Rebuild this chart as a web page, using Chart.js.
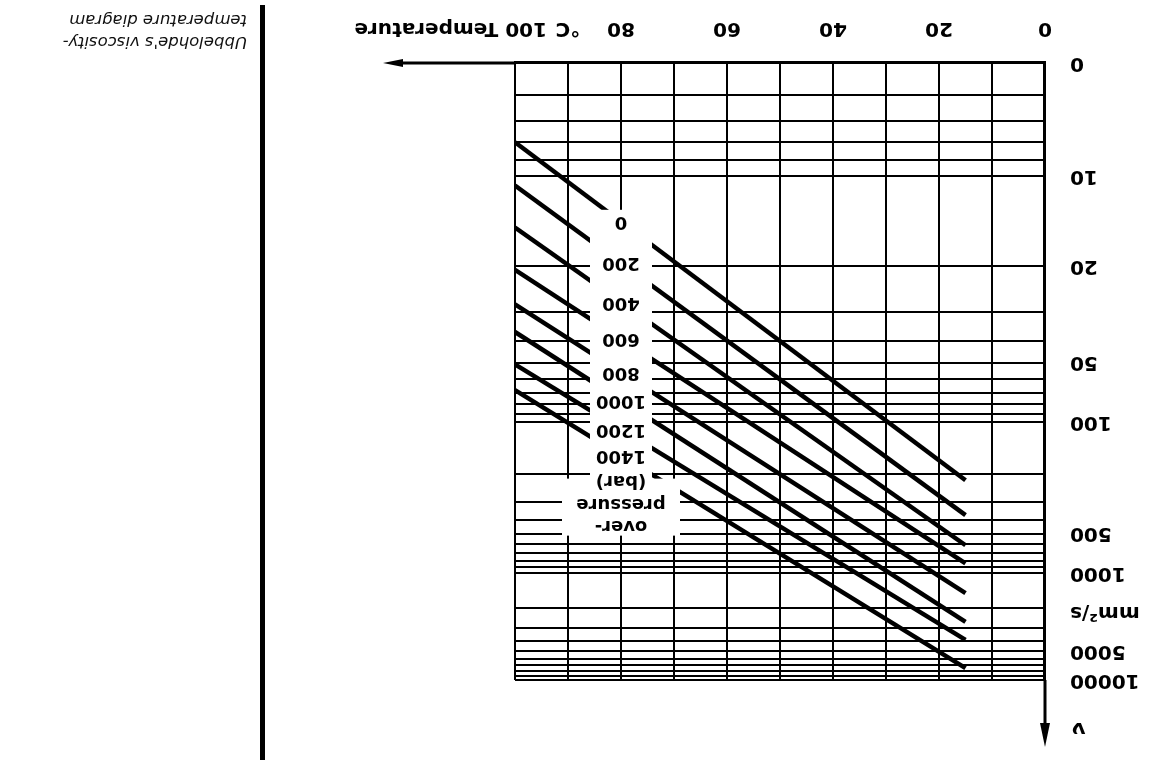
<!DOCTYPE html>
<html>
<head>
<meta charset="utf-8">
<title>Ubbelohde viscosity-temperature diagram</title>
<script src="https://cdn.jsdelivr.net/npm/chart.js@4/dist/chart.umd.min.js"></script>
<style>
  html, body { margin: 0; padding: 0; background: #fff; overflow: hidden; }
  #sheet { position: relative; width: 1150px; height: 760px; transform: rotate(180deg); }
  #sheet canvas { position: absolute; left: 0; top: 0; }
  .rule { position: absolute; left: 885px; top: 0; width: 5px; height: 755px; background: #000; }
  .caption { position: absolute; left: 903px; top: 707px; font: italic 16.5px/22px "DejaVu Sans", sans-serif; color: #111; white-space: nowrap; }
</style>
</head>
<body>
<div id="sheet">
  <canvas id="ubbelohde" width="1150" height="760"></canvas>
  <div class="rule"></div>
  <div class="caption">Ubbelohde's viscosity-<br>temperature diagram</div>
</div>
<script>
// ends of every pressure line, °C
var lineTemps = [15, 100]
var pressures = [0, 200, 400, 600, 800, 1000, 1200, 1400]
// kinematic viscosity, mm²/s, read at 15 °C and at 100 °C
var viscAt15 = [218, 370, 610, 840, 1470, 2640, 3900, 7500]
var viscAt100 = [8, 10.7, 14.6, 20.6, 28, 36.5, 51, 68]
// grid and tick labels
var viscGrid = [5, 6, 7, 8, 9, 10, 20, 30, 40, 50, 60, 70, 80, 90, 100,
    200, 300, 400, 500, 600, 700, 800, 900, 1000,
    2000, 3000, 4000, 5000, 6000, 7000, 8000, 9000, 10000]
var viscLabels = [10, 20, 50, 100, 500, 1000, 5000, 10000]
var tempLabels = [0, 20, 40, 60, 80]
var labelTemp = 80

// Ubbelohde ordinate: log log (v + 0.8)
function ubb(v) {
    return Math.log10(Math.log10(v + 0.8))
}

Chart.defaults.font.family = '"DejaVu Sans", sans-serif'
Chart.defaults.font.size = 20
Chart.defaults.font.weight = 'bold'
Chart.defaults.color = '#000'

var pressureTags = {
    id: 'pressureTags',
    afterDatasetsDraw: function(chart) {
        var ctx = chart.ctx, x = chart.scales.x, y = chart.scales.y
        var xc = x.getPixelForValue(labelTemp)
        var t = (labelTemp - lineTemps[0]) / (lineTemps[1] - lineTemps[0])
        var ys = pressures.map(function(p, i) {
            var a = ubb(viscAt15[i]), b = ubb(viscAt100[i])
            return y.getPixelForValue(a + (b - a) * t)
        })
        var top = ys[ys.length - 1]
        var head = ['over-', 'pressure', '(bar)']
        var headY = [top - 70, top - 48, top - 25]
        ctx.save()
        ctx.fillStyle = '#fff'
        ctx.fillRect(xc - 59, headY[0] - 10, 118, headY[2] - headY[0] + 12)
        ctx.fillRect(xc - 31, headY[2], 62, ys[0] + 12 - headY[2])
        ctx.fillStyle = '#000'
        ctx.font = 'bold 18px "DejaVu Sans", sans-serif'
        ctx.textAlign = 'center'
        ctx.textBaseline = 'middle'
        head.forEach(function(s, i) { ctx.fillText(s, xc, headY[i]) })
        pressures.forEach(function(p, i) { ctx.fillText(String(p), xc, ys[i]) })
        ctx.restore()
    }
}

var axisExtras = {
    id: 'axisExtras',
    afterDraw: function(chart) {
        var ctx = chart.ctx, a = chart.chartArea, x = chart.scales.x, y = chart.scales.y
        ctx.save()
        ctx.strokeStyle = '#000'
        ctx.fillStyle = '#000'
        ctx.lineWidth = 3
        // temperature arrow
        var xEnd = a.right + 132
        ctx.beginPath(); ctx.moveTo(a.right, a.bottom); ctx.lineTo(xEnd - 16, a.bottom); ctx.stroke()
        ctx.beginPath(); ctx.moveTo(xEnd, a.bottom); ctx.lineTo(xEnd - 20, a.bottom - 4); ctx.lineTo(xEnd - 20, a.bottom + 4); ctx.closePath(); ctx.fill()
        // viscosity arrow
        var yEnd = 13
        ctx.beginPath(); ctx.moveTo(a.left, a.top); ctx.lineTo(a.left, yEnd + 18); ctx.stroke()
        ctx.beginPath(); ctx.moveTo(a.left, yEnd); ctx.lineTo(a.left - 5, yEnd + 24); ctx.lineTo(a.left + 5, yEnd + 24); ctx.closePath(); ctx.fill()
        // units
        ctx.font = 'bold 20px "DejaVu Sans", sans-serif'
        ctx.textBaseline = 'middle'
        var ty = x.top + 23 + 12
        ctx.textAlign = 'center'
        ctx.fillText('°C', x.getPixelForValue(90), ty)
        ctx.textAlign = 'left'
        ctx.fillText('100 Temperature', x.getPixelForValue(100) - 32, ty)
        ctx.textAlign = 'right'
        ctx.fillText('mm²/s', a.left - 25, y.getPixelForValue((ubb(1000) + ubb(5000)) / 2))
        ctx.fillText('ν', a.left - 27, a.top - 48)
        ctx.restore()
    }
}

var datasets = pressures.map(function(p, i) {
    return {
        label: p + ' bar',
        data: [
            {x: lineTemps[0], y: ubb(viscAt15[i])},
            {x: lineTemps[1], y: ubb(viscAt100[i])}
        ],
        borderColor: '#000',
        borderWidth: 4.5,
        pointRadius: 0,
        fill: false,
        tension: 0
    }
})

var chart = new Chart(document.getElementById('ubbelohde'), {
    type: 'line',
    data: { datasets: datasets },
    plugins: [pressureTags, axisExtras],
    options: {
        responsive: false,
        animation: false,
        events: [],
        layout: { padding: { left: 0, right: 515, top: 80, bottom: 0 } },
        plugins: {
            legend: { display: false },
            tooltip: { enabled: false }
        },
        scales: {
            x: {
                type: 'linear',
                min: 0,
                max: 100,
                afterFit: function(s) { s.height = 63 },
                grid: { color: '#000', lineWidth: 2, drawTicks: false },
                border: { color: '#000', width: 3 },
                ticks: {
                    stepSize: 10,
                    autoSkip: false,
                    maxRotation: 0,
                    padding: 23,
                    callback: function(v) { return tempLabels.indexOf(v) >= 0 ? String(v) : '' }
                }
            },
            y: {
                type: 'linear',
                min: ubb(viscGrid[0]),
                max: ubb(viscGrid[viscGrid.length - 1]),
                afterBuildTicks: function(s) {
                    s.ticks = viscGrid.map(function(v) { return {value: ubb(v)} })
                },
                afterFit: function(s) { s.width = 105 },
                grid: { color: '#000', lineWidth: 2, drawTicks: false },
                border: { color: '#000', width: 3 },
                ticks: {
                    autoSkip: false,
                    padding: 25,
                    callback: function(val, i) {
                        if (i === 0) return '0'
                        return viscLabels.indexOf(viscGrid[i]) >= 0 ? String(viscGrid[i]) : ''
                    }
                }
            }
        }
    }
})
</script>
</body>
</html>
